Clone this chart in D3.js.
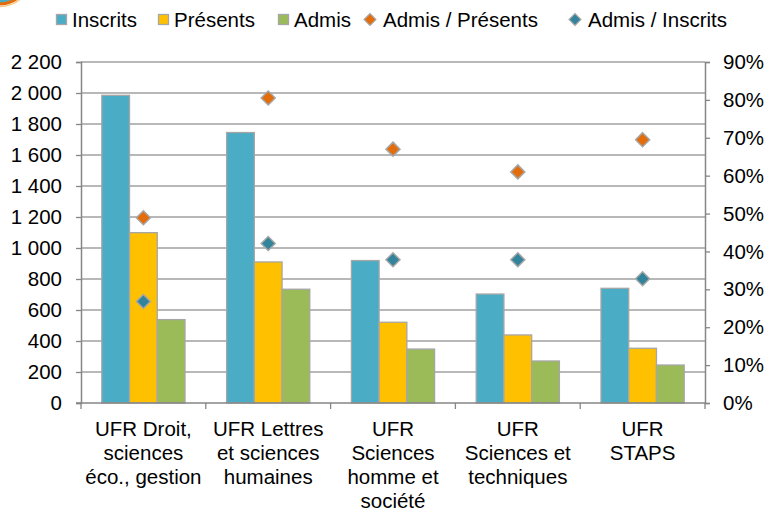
<!DOCTYPE html>
<html>
<head>
<meta charset="utf-8">
<script src="https://cdn.jsdelivr.net/npm/d3@7"></script>
<style>
  body { margin: 0; background: #fff; }
  text { font-family: "Liberation Sans", Arial, sans-serif; fill: #000; }
</style>
</head>
<body>
<div id="chart"></div>
<script>
// data
var categories = [
  ["UFR Droit,", "sciences", "éco., gestion"],
  ["UFR Lettres", "et sciences", "humaines"],
  ["UFR", "Sciences", "homme et", "société"],
  ["UFR", "Sciences et", "techniques"],
  ["UFR", "STAPS"]
];
var barSeries = ["Inscrits", "Présents", "Admis"];
var inscrits = [1985, 1745, 919, 703, 740];
var presents = [1099, 910, 521, 439, 353];
var admis = [538, 734, 348, 271, 245];
var admisSurPresents = [0.489, 0.805, 0.670, 0.610, 0.695];
var admisSurInscrits = [0.268, 0.421, 0.378, 0.378, 0.328];
var leftTicks = [0, 200, 400, 600, 800, 1000, 1200, 1400, 1600, 1800, 2000, 2200];
var rightTicks = [0, 0.1, 0.2, 0.3, 0.4, 0.5, 0.6, 0.7, 0.8, 0.9];

var W = 767, H = 513;
var m = { left: 81, right: 705, top: 62, bottom: 403 };
var barColors = { "Inscrits": "#4bacc6", "Présents": "#ffc000", "Admis": "#9bbb59" };
var orange = "#e46c0a", teal = "#31849b";
var gridCol = "#a0a0a0", axisCol = "#868686", fontSize = 20.5;

var svg = d3.select("#chart").append("svg").attr("width", W).attr("height", H);

// corner decoration
svg.append("circle").attr("cx", 0).attr("cy", -25).attr("r", 29)
  .attr("fill", "#4bacc6").attr("stroke", orange).attr("stroke-width", 3);
svg.append("circle").attr("cx", 0).attr("cy", -25).attr("r", 31.5)
  .attr("fill", "none").attr("stroke", "#f5c98a").attr("stroke-width", 1.5);

var idx = d3.range(categories.length);
var x0 = d3.scaleBand().domain(idx).range([m.left, m.right]);
var x1 = d3.scaleBand().domain(barSeries).range([0, x0.bandwidth()]).paddingInner(0).paddingOuter(0.75);
var y = d3.scaleLinear().domain([0, 2200]).range([m.bottom, m.top]);
var y2 = d3.scaleLinear().domain([0, 0.9]).range([m.bottom, m.top]);

// gridlines
svg.append("g").selectAll("line").data(leftTicks.slice(1)).enter().append("line")
  .attr("x1", m.left).attr("x2", m.right)
  .attr("y1", d => y(d)).attr("y2", d => y(d))
  .attr("stroke", gridCol).attr("stroke-width", 1.3);

// bars
var barData = idx.map(i => ({ i: i, vals: [inscrits[i], presents[i], admis[i]] }));
var groups = svg.append("g").selectAll("g").data(barData).enter().append("g")
  .attr("transform", d => "translate(" + x0(d.i) + ",0)");
groups.selectAll("rect").data(d => d.vals.map((v, k) => ({ s: barSeries[k], v: v }))).enter().append("rect")
  .attr("x", d => x1(d.s))
  .attr("width", x1.bandwidth())
  .attr("y", d => y(d.v))
  .attr("height", d => y(0) - y(d.v))
  .attr("fill", d => barColors[d.s])
  .attr("stroke", "#a6a6a6").attr("stroke-width", 1.3);

// axes
var fmt = d => d3.format(",")(d).replace(/,/g, " ");
var yAxis = svg.append("g").attr("transform", "translate(" + m.left + ",0)")
  .call(d3.axisLeft(y).tickValues(leftTicks).tickFormat(fmt).tickSize(5).tickPadding(14));
var yAxis2 = svg.append("g").attr("transform", "translate(" + m.right + ",0)")
  .call(d3.axisRight(y2).tickValues(rightTicks).tickFormat(d3.format(".0%")).tickSize(5).tickPadding(13));
[yAxis, yAxis2].forEach(function (a) {
  a.select(".domain").attr("stroke", axisCol).attr("stroke-width", 1.5);
  a.selectAll(".tick line").attr("stroke", axisCol).attr("stroke-width", 1.3);
  a.selectAll("text").attr("font-size", fontSize).attr("font-family", null).attr("fill", "#000");
});

// bottom axis
var bottom = svg.append("g");
bottom.append("line").attr("x1", m.left - 5).attr("x2", m.right)
  .attr("y1", m.bottom).attr("y2", m.bottom).attr("stroke", axisCol).attr("stroke-width", 1.5);
bottom.selectAll("line.sep").data(d3.range(categories.length + 1)).enter().append("line")
  .attr("class", "sep")
  .attr("x1", d => m.left + d * x0.step()).attr("x2", d => m.left + d * x0.step())
  .attr("y1", m.bottom).attr("y2", m.bottom + 6)
  .attr("stroke", axisCol).attr("stroke-width", 1.3);
var labels = bottom.selectAll("text").data(idx).enter().append("text")
  .attr("text-anchor", "middle").attr("font-size", fontSize)
  .attr("transform", d => "translate(" + (x0(d) + x0.bandwidth() / 2) + ",0)");
labels.selectAll("tspan").data(d => categories[d]).enter().append("tspan")
  .attr("x", 0).attr("y", (d, k) => 436 + k * 24).text(d => d);

// diamond markers
var diamond = d3.symbol().type(d3.symbolDiamond2).size(125);
function markers(vals, col) {
  svg.append("g").selectAll("path").data(vals).enter().append("path")
    .attr("d", diamond)
    .attr("transform", (d, i) => "translate(" + (x0(i) + x0.bandwidth() / 2) + "," + y2(d) + ")")
    .attr("fill", col).attr("stroke", "#a6a6a6").attr("stroke-width", 1.5);
}
markers(admisSurPresents, orange);
markers(admisSurInscrits, teal);

// legend
var legendItems = [
  { name: "Inscrits", type: "rect", col: barColors["Inscrits"], x: 56 },
  { name: "Présents", type: "rect", col: barColors["Présents"], x: 158 },
  { name: "Admis", type: "rect", col: barColors["Admis"], x: 278 },
  { name: "Admis / Présents", type: "diamond", col: orange, x: 363 },
  { name: "Admis / Inscrits", type: "diamond", col: teal, x: 568 }
];
var lg = svg.append("g").selectAll("g").data(legendItems).enter().append("g")
  .attr("transform", d => "translate(" + d.x + ",0)");
lg.filter(d => d.type === "rect").append("rect")
  .attr("x", 0.5).attr("y", 14.5).attr("width", 10).attr("height", 10)
  .attr("fill", d => d.col).attr("stroke", "#a6a6a6").attr("stroke-width", 1.3);
lg.filter(d => d.type === "diamond").append("path")
  .attr("d", d3.symbol().type(d3.symbolDiamond2).size(90))
  .attr("transform", "translate(7,19.5)")
  .attr("fill", d => d.col).attr("stroke", "#a6a6a6").attr("stroke-width", 1.2);
lg.append("text").attr("x", d => d.type === "rect" ? 16 : 20).attr("y", 26.5)
  .attr("font-size", fontSize).text(d => d.name);
</script>
</body>
</html>
